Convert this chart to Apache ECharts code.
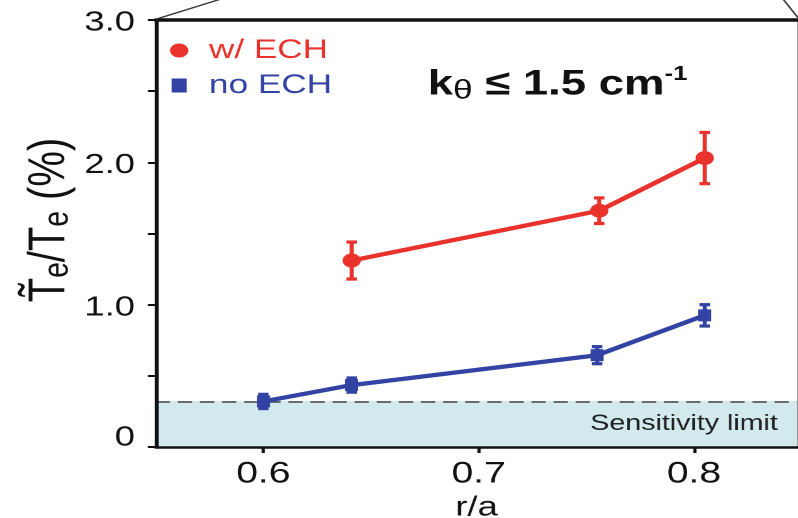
<!DOCTYPE html>
<html>
<head>
<meta charset="utf-8">
<script src="https://cdn.jsdelivr.net/npm/echarts@6/dist/echarts.min.js"></script>
<style>
  html, body { margin: 0; padding: 0; background: #fff; overflow: hidden; }
  #wrap { width: 798px; height: 518px; overflow: hidden; }
  /* The figure uses a horizontally widened lettering; the drawing is laid out at 614px and widened to 798px. */
  #chart { width: 614px; height: 518px; transform: scaleX(1.3); transform-origin: 0 0; }
</style>
</head>
<body>
<div id="wrap"><div id="chart"></div></div>
<script>
// Normalised radius r/a and relative temperature fluctuation level (%) with error bars
const seriesNames = ['w/ ECH', 'no ECH'];

const rOverA_ech = [0.641, 0.756, 0.805];
const teFluct_ech = [1.31, 1.66, 2.03];
const teErr_ech = [0.13, 0.09, 0.18];

const rOverA_noEch = [0.600, 0.641, 0.755, 0.805];
const teFluct_noEch = [0.32, 0.435, 0.645, 0.925];
const teErr_noEch = [0.05, 0.05, 0.06, 0.075];

const sensitivityLimit = 0.323;
const sensitivityLabel = 'Sensitivity limit';

const xRange = [0.55, 0.848];
const xTicks = [0.6, 0.7, 0.8];
const xTickLabels = ['0.6', '0.7', '0.8'];
const yRange = [0, 3];
const yTicks = [0, 1, 2, 3];
const yTickLabels = ['0', '1.0', '2.0', '3.0'];

const RED = '#e8322b';
const BLUE = '#3343a4';
const INK = '#111';
const FONT = 'Liberation Sans';

function pairs(xs, ys) { return xs.map((x, i) => [x, ys[i]]); }

function errorBars(name, xs, ys, errs, color) {
  return {
    name: name + ' error',
    type: 'custom',
    silent: true,
    z: 4,
    encode: { x: 0, y: [1, 2] },
    data: xs.map((x, i) => [x, ys[i] - errs[i], ys[i] + errs[i]]),
    renderItem(params, api) {
      const x = api.value(0);
      const lo = api.coord([x, api.value(1)]);
      const hi = api.coord([x, api.value(2)]);
      const cap = 4;
      const st = { stroke: color, lineWidth: 3.2 };
      return {
        type: 'group',
        children: [
          { type: 'line', shape: { x1: lo[0], y1: lo[1], x2: hi[0], y2: hi[1] }, style: st },
          { type: 'line', shape: { x1: lo[0] - cap, y1: lo[1], x2: lo[0] + cap, y2: lo[1] }, style: st },
          { type: 'line', shape: { x1: hi[0] - cap, y1: hi[1], x2: hi[0] + cap, y2: hi[1] }, style: st }
        ]
      };
    }
  };
}

const chart = echarts.init(document.getElementById('chart'), null, { renderer: 'canvas', devicePixelRatio: 2 });

chart.setOption({
  animation: false,
  backgroundColor: '#fff',
  textStyle: { fontFamily: FONT },
  grid: { left: 119.8, right: 0.7, top: 20, bottom: 71, outerBoundsMode: 'none', containLabel: false },
  legend: {
    orient: 'vertical',
    left: 125.8,
    top: 32,
    itemGap: 8,
    itemWidth: 36,
    itemHeight: 14,
    symbolKeepAspect: true,
    selectedMode: false,
    textStyle: { fontFamily: FONT, fontSize: 27 },
    data: [
      { name: seriesNames[0], icon: 'circle', textStyle: { color: RED } },
      { name: seriesNames[1], icon: 'path://M0,0H10V12H0Z', textStyle: { color: BLUE } }
    ]
  },
  xAxis: [
    {
      type: 'value',
      min: xRange[0],
      max: xRange[1],
      position: 'bottom',
      z: 6,
      name: 'r/a',
      nameLocation: 'middle',
      nameGap: 44,
      nameTextStyle: { color: INK, fontSize: 28, fontFamily: FONT },
      axisLine: { show: true, onZero: false, lineStyle: { color: INK, width: 2.5 } },
      axisTick: { show: true, customValues: xTicks, length: 6, lineStyle: { color: INK, width: 2.5 } },
      axisLabel: {
        customValues: xTicks,
        margin: 12,
        color: INK,
        fontSize: 30,
        fontFamily: FONT,
        formatter: v => {
          const i = xTicks.findIndex(t => Math.abs(t - v) < 1e-9);
          return i >= 0 ? xTickLabels[i] : '';
        }
      },
      splitLine: { show: false }
    },
    {
      type: 'value',
      min: xRange[0],
      max: xRange[1],
      position: 'top',
      z: 6,
      axisLine: { show: true, onZero: false, lineStyle: { color: INK, width: 3.5 } },
      axisTick: { show: false },
      axisLabel: { show: false },
      splitLine: { show: false }
    }
  ],
  yAxis: [
    {
      type: 'value',
      min: yRange[0],
      max: yRange[1],
      interval: 0.5,
      position: 'left',
      z: 6,
      axisLine: { show: true, onZero: false, lineStyle: { color: INK, width: 3 } },
      axisTick: { show: true, length: 6, lineStyle: { color: INK, width: 2 } },
      axisLabel: {
        margin: 16,
        color: INK,
        fontSize: 28,
        fontFamily: FONT,
        formatter: v => {
          const i = yTicks.findIndex(t => Math.abs(t - v) < 1e-9);
          if (i < 0) return '';
          // the zero label sits a little above its tick, the others slightly below
          return (i === 0 ? '{z|' : '{n|') + yTickLabels[i] + '}';
        },
        rich: {
          n: { fontFamily: FONT, fontSize: 28, color: INK, padding: [6, 0, 0, 0] },
          z: { fontFamily: FONT, fontSize: 28, color: INK, padding: [0, 0, 18, 0] }
        }
      },
      splitLine: { show: false }
    },
    {
      type: 'value',
      min: yRange[0],
      max: yRange[1],
      position: 'right',
      z: 6,
      axisLine: { show: true, onZero: false, lineStyle: { color: '#9a9a9a', width: 1 } },
      axisTick: { show: false },
      axisLabel: { show: false },
      splitLine: { show: false }
    }
  ],
  series: [
    {
      name: 'sensitivity',
      type: 'line',
      data: [],
      z: 1,
      silent: true,
      markArea: {
        silent: true,
        itemStyle: { color: '#d2eaee' },
        label: {
          show: true,
          position: 'insideRight',
          distance: 15,
          color: '#222',
          fontSize: 22,
          fontFamily: FONT
        },
        data: [[{ yAxis: 0, name: sensitivityLabel }, { yAxis: sensitivityLimit }]]
      },
      markLine: {
        silent: true,
        symbol: 'none',
        label: { show: false },
        lineStyle: { color: '#444', width: 1.5, type: [11, 6] },
        data: [{ yAxis: sensitivityLimit }]
      }
    },
    errorBars(seriesNames[0], rOverA_ech, teFluct_ech, teErr_ech, RED),
    errorBars(seriesNames[1], rOverA_noEch, teFluct_noEch, teErr_noEch, BLUE),
    {
      name: seriesNames[0],
      type: 'line',
      z: 5,
      data: pairs(rOverA_ech, teFluct_ech),
      symbol: 'circle',
      symbolSize: 14,
      color: RED,
      itemStyle: { color: RED },
      lineStyle: { color: RED, width: 4.3 }
    },
    {
      name: seriesNames[1],
      type: 'line',
      z: 5,
      data: pairs(rOverA_noEch, teFluct_noEch),
      symbol: 'rect',
      symbolSize: [10, 12],
      color: BLUE,
      itemStyle: { color: BLUE },
      lineStyle: { color: BLUE, width: 4.3 }
    }
  ],
  graphic: [
    // wavenumber range note
    {
      type: 'text',
      left: 329,
      top: 64.7,
      z: 10,
      style: {
        text: '{k|k}{s|θ}{m| ≤ 1.5 cm}{p|-1}',
        fill: INK,
        rich: {
          k: { fontFamily: FONT, fontWeight: 'bold', fontSize: 35, lineHeight: 40, fill: INK },
          m: { fontFamily: FONT, fontWeight: 'bold', fontSize: 35, lineHeight: 40, fill: INK },
          s: { fontFamily: FONT, fontSize: 27, lineHeight: 8, verticalAlign: 'bottom', fill: INK },
          p: { fontFamily: FONT, fontWeight: 'bold', fontSize: 20, lineHeight: 24, verticalAlign: 'top', fill: INK }
        }
      }
    },
    // vertical axis title
    {
      type: 'text',
      x: 38.3,
      y: 220,
      rotation: Math.PI / 2,
      z: 10,
      style: {
        text: '{m|T\u0303}{e|e}{m|/T}{e|e}{m| (%)}',
        align: 'center',
        verticalAlign: 'middle',
        textAlign: 'center',
        textVerticalAlign: 'middle',
        fill: INK,
        rich: {
          m: { fontFamily: FONT, fontSize: 40, lineHeight: 40, fill: INK },
          e: { fontFamily: FONT, fontSize: 28, lineHeight: 16, verticalAlign: 'bottom', fill: INK }
        }
      }
    },
    // zoom connector strokes from the frame corners
    {
      type: 'line',
      z: 10,
      shape: { x1: 119.2, y1: 19.5, x2: 170, y2: -1 },
      style: { stroke: '#333', lineWidth: 1.3 }
    },
    {
      type: 'line',
      z: 10,
      shape: { x1: 602.3, y1: -1, x2: 614, y2: 18 },
      style: { stroke: '#333', lineWidth: 1.3 }
    }
  ]
});
</script>
</body>
</html>
